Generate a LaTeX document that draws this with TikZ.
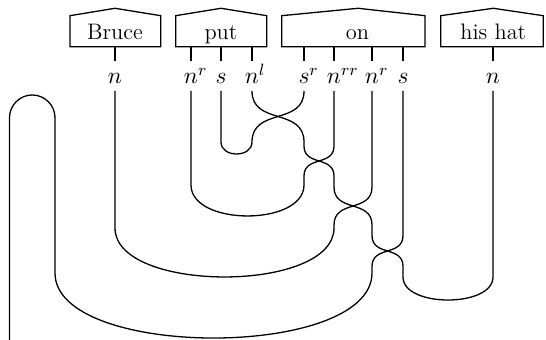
\RequirePackage{fix-cm}
\documentclass[tikz,border=0pt]{standalone}
\begin{document}
\begin{tikzpicture}[x=0.5pt,y=-0.5pt,line width=0.65pt,
  boxbody/.style={minimum width=#1,minimum height=15.5pt,inner sep=0pt,outer sep=0pt,draw=none},
  boxtext/.style={anchor=base,inner sep=0pt,font=\fontsize{11.2}{14}\selectfont},
  lbl/.style={anchor=base,inner sep=0pt,font=\fontsize{11.7}{14}\selectfont},
  boxline/.style={draw,line width=0.65pt},
  wire/.style={draw,line width=0.65pt}]
\useasboundingbox (0,0) rectangle (546,340);
% boxes
\node[boxbody=45.35pt] (bruce) at (115.35,31.2) {};
\node[boxbody=45.5pt] (put) at (221.2,31.2) {};
\node[boxbody=71.65pt] (on) at (353.35,31.2) {};
\node[boxbody=51.3pt] (hat) at (492,31.2) {};
\coordinate (bruceroof) at (115,8.3);
\coordinate (putroof) at (221,8.3);
\coordinate (onroof) at (358,8.3);
\coordinate (hatroof) at (493.3,8.3);
\foreach \b in {bruce,put,on,hat}{
  \draw[boxline] (\b.north west) -- (\b.south west) -- (\b.south east) -- (\b.north east) -- (\b roof) -- cycle;
}
\node[boxtext] (tbruce) at (115,39.3) {Bruce};
\node[boxtext] (tput) at (221,39.3) {put};
\node[boxtext] (ton) at (357.5,39.3) {on};
\node[boxtext] (that) at (493.3,39.3) {his hat};
% labels
\node[lbl] (lC) at (115,83.5) {$n$};
\node[lbl] (lD) at (191,83.5) {$n\rlap{$^{r}$}$};
\node[lbl] (lE) at (221,83.5) {$s$};
\node[lbl] (lF) at (252,83.5) {$n\rlap{$^{l}$}$};
\node[lbl] (lG) at (304,83.5) {$s\rlap{$^{r}$}$};
\node[lbl] (lH) at (334,83.5) {$n\rlap{$^{rr}$}$};
\node[lbl] (lI) at (372,83.5) {$n\rlap{$^{r}$}$};
\node[lbl] (lJ) at (403,83.5) {$s$};
\node[lbl] (lK) at (493,83.5) {$n$};
% stubs
\foreach \l/\b in {lC/bruce,lD/put,lE/put,lF/put,lG/on,lH/on,lI/on,lJ/on,lK/hat}{
  \draw[wire] (\b.south -| \l) -- ++(0,14.3);
}
% wire starts below labels
\coordinate (wC) at (115,91);
\coordinate (wD) at (191,91);
\coordinate (wE) at (221,91);
\coordinate (wF) at (252,91);
\coordinate (wG) at (304,91);
\coordinate (wH) at (334,91);
\coordinate (wI) at (372,91);
\coordinate (wJ) at (403,91);
\coordinate (wK) at (493,91);
\coordinate (sout) at (9.5,340);
% put s -- on s^r
\draw[wire] (wE) -- (221,142) .. controls (221,158) and (252,158) .. (252,142)
  .. controls (252,107.3) and (304,125.7) .. (wG);
% put n^l -- his hat n
\draw[wire] (wF) .. controls (252,125.7) and (304,107.3) .. (304,142) -- (304,146)
  .. controls (304,166.4) and (334,155.6) .. (334,176) -- (334,187)
  .. controls (334,212.8) and (372,199.2) .. (372,225) -- (372,235.5)
  .. controls (372,256.6) and (403,245.4) .. (403,266.5) -- (403,277)
  .. controls (403,307.7) and (493,307.7) .. (493,277) -- (wK);
% on n^rr -- put n^r
\draw[wire] (wH) -- (334,146) .. controls (334,166.4) and (304,155.6) .. (304,176) -- (304,185)
  .. controls (304,226.3) and (191,226.3) .. (191,185) -- (wD);
% on n^r -- Bruce n
\draw[wire] (wI) -- (372,187) .. controls (372,212.8) and (334,199.2) .. (334,225) -- (334,228)
  .. controls (334,293.3) and (115,293.3) .. (115,228) -- (wC);
% on s -- output
\draw[wire] (wJ) -- (403,235.5) .. controls (403,256.6) and (372,245.4) .. (372,266.5) -- (372,273)
  .. controls (372,359.7) and (55,359.7) .. (55,273) -- (55,117.75)
  .. controls (55,105.2) and (44.8,95) .. (32.25,95)
  .. controls (19.7,95) and (9.5,105.2) .. (9.5,117.75) -- (sout);
\end{tikzpicture}
\end{document}
